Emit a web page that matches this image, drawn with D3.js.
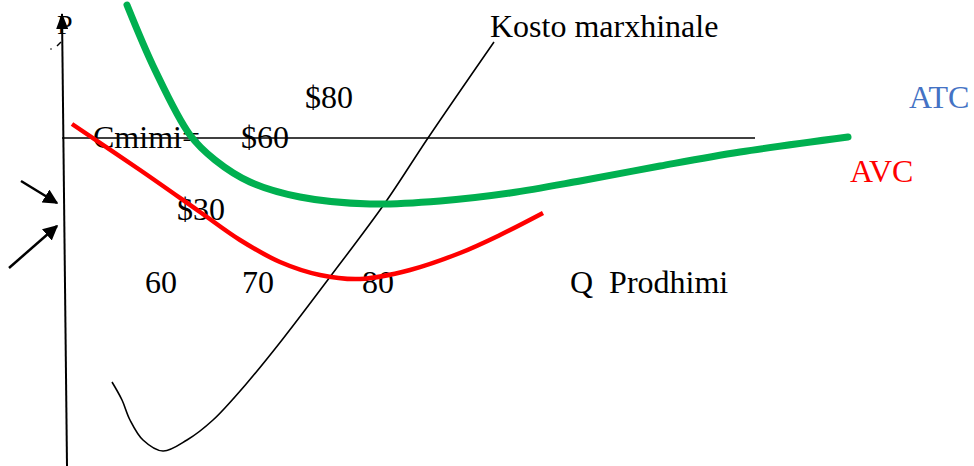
<!DOCTYPE html>
<html>
<head>
<meta charset="utf-8">
<script src="https://cdn.jsdelivr.net/npm/d3@7"></script>
<style>
  body { margin: 0; background: #fff; }
  text { font-family: "Liberation Serif", "Times New Roman", serif; white-space: pre; }
</style>
</head>
<body>
<div class="chart"></div>
<script>
const w = 974;
const h = 466;

// curves, as [Q, P] with P measured upward from the bottom edge
const atcPoints = [[127, 461], [155, 396], [190, 331], [215, 306], [250, 284], [300, 269], [370, 262],
                   [440, 265], [510, 273], [580, 285], [660, 300], [740, 314], [848, 329]];
const avcPoints = [[72, 342], [140, 296], [200, 254], [240, 226], [280, 204], [320, 191], [360, 187],
                   [410, 196], [460, 213], [500, 231], [543, 253]];
const mcPoints = [[112, 84], [122, 66], [130, 46], [143, 26], [163, 15], [187, 26], [213, 46],
                  [247, 83], [282, 126], [330, 189], [385, 263], [428, 328], [494, 424]];

// price line and axis
const priceLevel = 328;
const priceLineEnd = 755;
const axisLine = [[67, 0], [62, 452]];

// pointers on the price axis: [from, to]
const pointers = [[[21, 285], [57, 263]], [[9, 198], [57, 240]]];

const labels = [
  { text: 'P', q: 57, p: 432, size: 28, color: '#000' },
  { text: 'Kosto marxhinale', q: 490, p: 429, size: 32, color: '#000' },
  { text: '$80', q: 305, p: 358, size: 32, color: '#000' },
  { text: 'ATC', q: 909, p: 358, size: 32, color: '#4472c4' },
  { text: 'Cmimi=', q: 93, p: 318, size: 32, color: '#000' },
  { text: '$60', q: 241, p: 318, size: 32, color: '#000' },
  { text: 'AVC', q: 850, p: 284, size: 32, color: '#ff0000' },
  { text: '$30', q: 177, p: 246, size: 32, color: '#000' },
  { text: '60', q: 145, p: 173, size: 32, color: '#000' },
  { text: '70', q: 242, p: 173, size: 32, color: '#000' },
  { text: '80', q: 362, p: 173, size: 32, color: '#000' },
  { text: 'Q  Prodhimi', q: 570, p: 173, size: 32, color: '#000' }
];

const x = d3.scaleLinear().domain([0, w]).range([0, w]);
const y = d3.scaleLinear().domain([0, h]).range([h, 0]);

const svg = d3.select('.chart')
  .append('svg')
  .attr('width', w)
  .attr('height', h);

const defs = svg.append('defs');
defs.append('marker')
  .attr('id', 'arrow')
  .attr('viewBox', '0 0 10 10')
  .attr('refX', 9)
  .attr('refY', 5)
  .attr('markerWidth', 6)
  .attr('markerHeight', 6)
  .attr('markerUnits', 'strokeWidth')
  .attr('orient', 'auto')
  .append('path')
  .attr('d', 'M0,0 L10,5 L0,10 z')
  .attr('fill', '#000');

defs.append('marker')
  .attr('id', 'axisArrow')
  .attr('viewBox', '0 0 16 12')
  .attr('refX', 15)
  .attr('refY', 6)
  .attr('markerWidth', 16)
  .attr('markerHeight', 12)
  .attr('markerUnits', 'userSpaceOnUse')
  .attr('orient', 'auto')
  .append('path')
  .attr('d', 'M0,0 L16,6 L0,12 z')
  .attr('fill', '#000');

const line = d3.line()
  .x(d => x(d[0]))
  .y(d => y(d[1]))
  .curve(d3.curveCatmullRom.alpha(0.5));

// price axis with arrow on top
svg.append('path')
  .attr('d', d3.line().x(d => x(d[0])).y(d => y(d[1]))(axisLine))
  .attr('stroke', '#000')
  .attr('stroke-width', 2)
  .attr('marker-end', 'url(#axisArrow)');

// price line
svg.append('line')
  .attr('x1', x(62))
  .attr('x2', x(priceLineEnd))
  .attr('y1', y(priceLevel))
  .attr('y2', y(priceLevel))
  .attr('stroke', '#000')
  .attr('stroke-width', 1.5);

// little stray marks by the P
svg.append('line')
  .attr('x1', x(57)).attr('y1', y(420))
  .attr('x2', x(61)).attr('y2', y(424))
  .attr('stroke', '#000').attr('stroke-width', 1.5);
svg.append('circle')
  .attr('cx', x(51)).attr('cy', y(417)).attr('r', 0.8).attr('fill', '#000');

// pointers
svg.selectAll('.pointer')
  .data(pointers)
  .enter()
  .append('line')
  .attr('class', 'pointer')
  .attr('x1', d => x(d[0][0]))
  .attr('y1', d => y(d[0][1]))
  .attr('x2', d => x(d[1][0]))
  .attr('y2', d => y(d[1][1]))
  .attr('stroke', '#000')
  .attr('stroke-width', 2.5)
  .attr('marker-end', 'url(#arrow)');

// labels
svg.selectAll('.lbl')
  .data(labels)
  .enter()
  .append('text')
  .attr('class', 'lbl')
  .attr('x', d => x(d.q))
  .attr('y', d => y(d.p))
  .attr('font-size', d => d.size)
  .attr('fill', d => d.color)
  .text(d => d.text);

// curves
svg.append('path')
  .attr('d', line(mcPoints))
  .attr('fill', 'none')
  .attr('stroke', '#000')
  .attr('stroke-width', 1.6);

svg.append('path')
  .attr('d', line(avcPoints))
  .attr('fill', 'none')
  .attr('stroke', '#ff0000')
  .attr('stroke-width', 4.5);

svg.append('path')
  .attr('d', line(atcPoints))
  .attr('fill', 'none')
  .attr('stroke', '#00b050')
  .attr('stroke-width', 7)
  .attr('stroke-linecap', 'round');
</script>
</body>
</html>
